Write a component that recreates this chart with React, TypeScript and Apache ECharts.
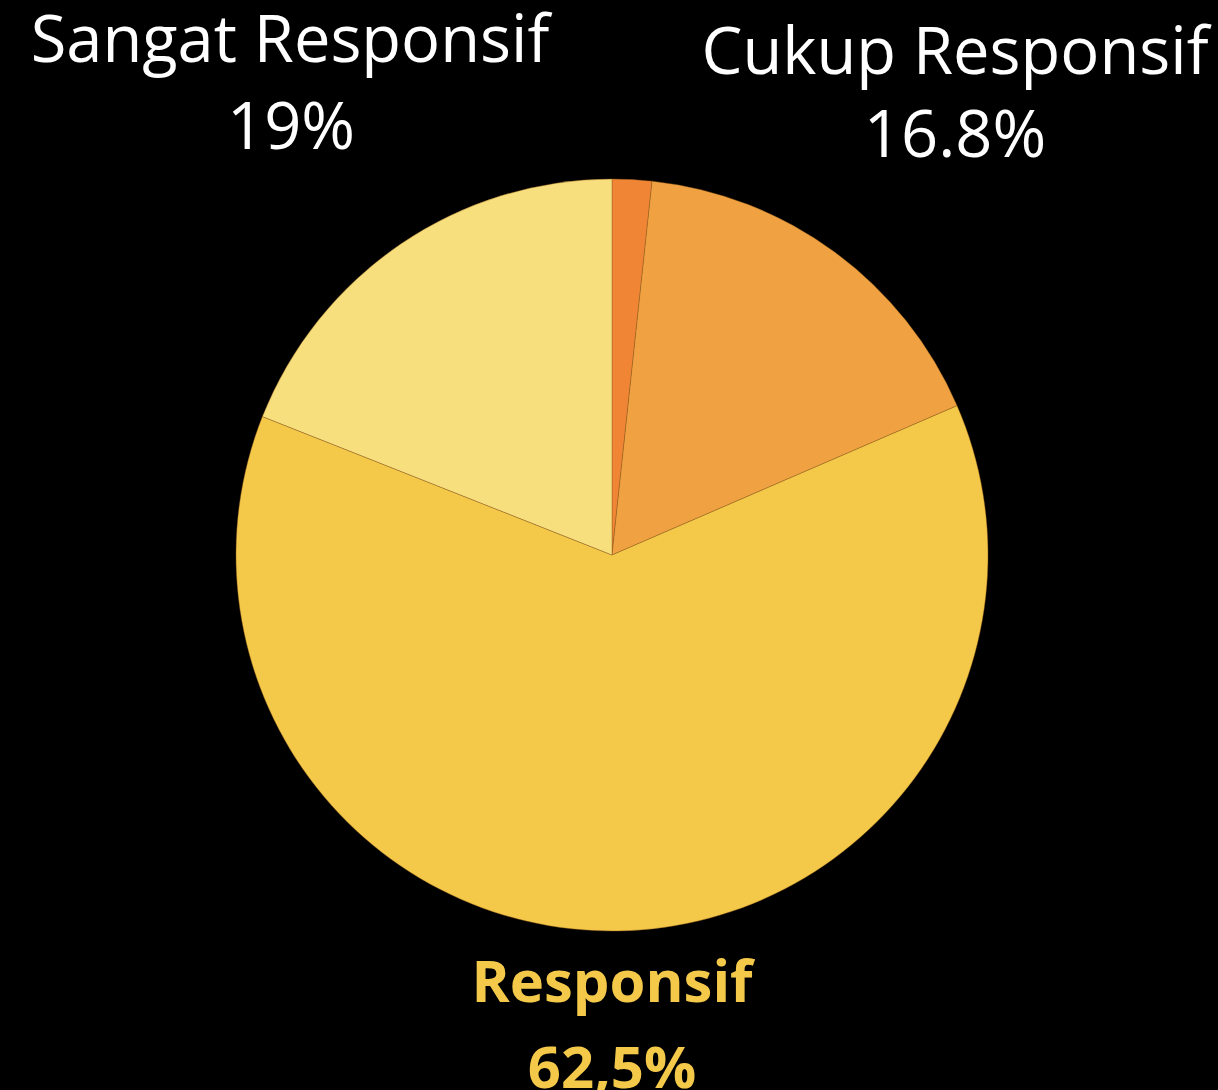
import React, { useEffect, useRef } from "react";
import * as echarts from "echarts";

const categories = ["Tidak Responsif", "Cukup Responsif", "Responsif", "Sangat Responsif"];
const values = [1.7, 16.8, 62.5, 19];
const colors = ["#EF8535", "#F0A242", "#F4C94A", "#F8DF7E"];
const labelTexts = ["19%", "16.8%", "62,5%"];
const labelNames = ["Sangat Responsif", "Cukup Responsif", "Responsif"];

export default function App() {
  const ref = useRef<HTMLDivElement>(null);
  useEffect(() => {
    document.body.style.margin = "0";
    document.body.style.background = "#000";
    const chart = echarts.init(ref.current!, null, { renderer: "svg" });
    const font = "Open Sans";
    const textEl = (txt: string, x: number, y: number, size: number, color: string, weight: string) => ({
      type: "text",
      x,
      y,
      style: {
        text: txt,
        fill: color,
        font: `${weight} ${size}px "${font}"`,
        textAlign: "center",
        textVerticalAlign: "top",
      },
    });
    chart.setOption({
      animation: false,
      backgroundColor: "#000",
      series: [
        {
          type: "pie",
          center: [612, 555],
          radius: 376,
          startAngle: 90,
          clockwise: true,
          label: { show: false },
          labelLine: { show: false },
          itemStyle: { borderColor: "rgba(150,95,30,0.7)", borderWidth: 0.6 },
          emphasis: { disabled: true },
          data: categories.map((c, i) => ({ name: c, value: values[i], itemStyle: { color: colors[i] } })),
        },
      ],
      graphic: [
        textEl(labelNames[0], 290, 4, 65, "#ffffff", "normal"),
        textEl(labelTexts[0], 291, 91, 65, "#ffffff", "normal"),
        textEl(labelNames[1], 955, 16, 65, "#ffffff", "normal"),
        textEl(labelTexts[1], 955, 99, 65, "#ffffff", "normal"),
        textEl(labelNames[2], 612, 950, 58, "#F4C94A", "bold"),
        textEl(labelTexts[2], 612, 1036, 58, "#F4C94A", "bold"),
      ],
    });
    return () => chart.dispose();
  }, []);
  return <div ref={ref} style={{ position: "fixed", left: 0, top: 0, width: 1218, height: 1090, background: "#000" }} />;
}
